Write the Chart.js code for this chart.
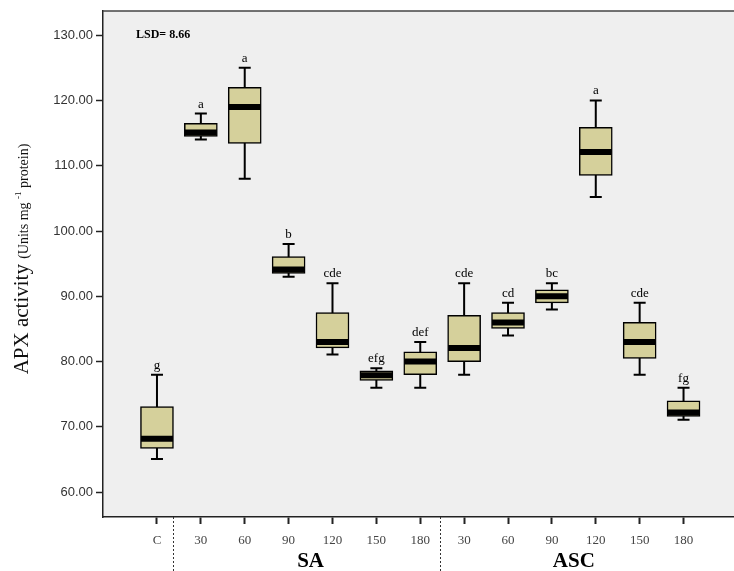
<!DOCTYPE html>
<html>
<head>
<meta charset="utf-8">
<script src="https://cdn.jsdelivr.net/npm/chart.js@4/dist/chart.umd.min.js"></script>
<style>
  html, body { margin: 0; padding: 0; background: #fff; }
  #wrap { width: 734px; height: 571px; position: relative; }
</style>
</head>
<body>
<div id="wrap"><canvas id="chart"></canvas></div>
<script>
// values (APX activity)
const categories = ["C", "30", "60", "90", "120", "150", "180", "30", "60", "90", "120", "150", "180"];
const whiskerLow  = [65.1, 114.0, 108.0, 93.0, 81.1, 76.0, 76.0, 78.0, 84.0, 88.0, 105.2, 78.0, 71.1];
const q1          = [66.7, 114.5, 113.4, 93.5, 82.1, 77.1, 78.0, 80.0, 85.1, 89.0, 108.5, 80.5, 71.6];
const medians     = [68.2, 115.1, 119.0, 94.1, 83.0, 77.9, 80.0, 82.1, 86.0, 90.0, 112.1, 83.0, 72.2];
const q3          = [73.1, 116.5, 122.0, 96.1, 87.5, 78.6, 81.5, 87.1, 87.5, 91.0, 115.9, 86.0, 74.0];
const whiskerHigh = [78.0, 118.0, 125.0, 98.0, 92.0, 79.0, 83.0, 92.0, 89.0, 92.0, 120.0, 89.0, 76.0];
const letters = ["g", "a", "a", "b", "cde", "efg", "def", "cde", "cd", "bc", "a", "cde", "fg"];
const groupLabels = ["SA", "ASC"];
const groupFirst = [2, 8];
const groupLast = [7, 13];
const dividers = [1.37, 7.46];
const yTicks = [60, 70, 80, 90, 100, 110, 120, 130];
const lsdText = "LSD= 8.66";

const positions = categories.map((_, i) => i + 1);

const boxPlugin = {
  id: "boxExtras",
  beforeDraw(chart) {
    const { ctx, chartArea: a } = chart;
    ctx.save();
    ctx.fillStyle = "#efefef";
    ctx.fillRect(a.left, a.top, a.right - a.left, a.bottom - a.top);
    ctx.restore();
  },
  beforeDatasetsDraw(chart) {
    // whiskers behind the boxes
    const { ctx } = chart;
    const x = chart.scales.x, y = chart.scales.y;
    ctx.save();
    ctx.strokeStyle = "#000";
    ctx.lineWidth = 2;
    positions.forEach((p, i) => {
      const px = x.getPixelForValue(p);
      const yl = y.getPixelForValue(whiskerLow[i]);
      const yh = y.getPixelForValue(whiskerHigh[i]);
      ctx.beginPath();
      ctx.moveTo(px, yl); ctx.lineTo(px, yh);
      ctx.moveTo(px - 6, yl); ctx.lineTo(px + 6, yl);
      ctx.moveTo(px - 6, yh); ctx.lineTo(px + 6, yh);
      ctx.stroke();
    });
    ctx.restore();
  },
  afterDatasetsDraw(chart) {
    const { ctx, chartArea: a } = chart;
    const x = chart.scales.x, y = chart.scales.y;
    ctx.save();
    // medians
    ctx.strokeStyle = "#000";
    ctx.lineWidth = 6;
    positions.forEach((p, i) => {
      const px = x.getPixelForValue(p);
      const ym = y.getPixelForValue(medians[i]);
      ctx.beginPath();
      ctx.moveTo(px - 16, ym); ctx.lineTo(px + 16, ym);
      ctx.stroke();
    });
    // significance letters
    ctx.fillStyle = "#000";
    ctx.font = "13px 'Liberation Serif'";
    ctx.textAlign = "center";
    ctx.textBaseline = "alphabetic";
    positions.forEach((p, i) => {
      ctx.fillText(letters[i], x.getPixelForValue(p), y.getPixelForValue(whiskerHigh[i]) - 6);
    });
    // LSD note
    ctx.font = "bold 12px 'Liberation Serif'";
    ctx.textAlign = "left";
    ctx.textBaseline = "middle";
    ctx.fillText(lsdText, a.left + 33, y.getPixelForValue(130));
    // frame top line
    ctx.strokeStyle = "#444";
    ctx.lineWidth = 1.5;
    ctx.beginPath();
    ctx.moveTo(a.left, a.top); ctx.lineTo(a.right, a.top);
    ctx.stroke();
    // dashed group dividers
    ctx.strokeStyle = "#333";
    ctx.lineWidth = 1;
    ctx.setLineDash([2, 2]);
    dividers.forEach((d) => {
      const px = Math.round(x.getPixelForValue(d)) + 0.5;
      ctx.beginPath();
      ctx.moveTo(px, a.bottom); ctx.lineTo(px, chart.height);
      ctx.stroke();
    });
    ctx.setLineDash([]);
    // group labels
    ctx.fillStyle = "#000";
    ctx.font = "bold 21px 'Liberation Serif'";
    ctx.textAlign = "center";
    ctx.textBaseline = "middle";
    groupLabels.forEach((g, i) => {
      const cx = (x.getPixelForValue(groupFirst[i]) + x.getPixelForValue(groupLast[i])) / 2;
      ctx.fillText(g, cx, 562);
    });
    // y axis title with mixed sizes
    ctx.translate(20, (a.top + a.bottom) / 2 - 5);
    ctx.rotate(-Math.PI / 2);
    ctx.textAlign = "left";
    ctx.textBaseline = "alphabetic";
    const big = "APX activity ";
    const s1 = "(Units mg ";
    const sup = "-1";
    const s2 = " protein)";
    ctx.font = "21px 'Liberation Serif'";
    const wBig = ctx.measureText(big).width;
    ctx.font = "14px 'Liberation Serif'";
    const w1 = ctx.measureText(s1).width, w2 = ctx.measureText(s2).width;
    ctx.font = "9px 'Liberation Serif'";
    const wSup = ctx.measureText(sup).width;
    let tx = -(wBig + w1 + wSup + w2) / 2;
    const base = 8;
    ctx.fillStyle = "#111";
    ctx.font = "21px 'Liberation Serif'";
    ctx.fillText(big, tx, base); tx += wBig;
    ctx.font = "14px 'Liberation Serif'";
    ctx.fillText(s1, tx, base); tx += w1;
    ctx.font = "9px 'Liberation Serif'";
    ctx.fillText(sup, tx, base - 7); tx += wSup;
    ctx.font = "14px 'Liberation Serif'";
    ctx.fillText(s2, tx, base);
    ctx.restore();
  }
};

new Chart(document.getElementById("chart"), {
  type: "bar",
  data: {
    datasets: [{
      data: positions.map((p, i) => ({ x: p, y: [q1[i], q3[i]] })),
      backgroundColor: "#d5d09b",
      borderColor: "#000",
      borderWidth: 1.5,
      borderSkipped: false,
      barThickness: 33
    }]
  },
  options: {
    responsive: true,
    maintainAspectRatio: false,
    animation: false,
    layout: { padding: { top: 11, right: 0, left: 0, bottom: 0 } },
    plugins: { legend: { display: false }, tooltip: { enabled: false } },
    scales: {
      x: {
        type: "linear",
        offset: false,
        min: -0.23,
        max: 14.15,
        afterBuildTicks: (s) => { s.ticks = positions.map((v) => ({ value: v })); },
        afterFit: (s) => { s.height = 54; },
        grid: { offset: false, drawOnChartArea: false, drawTicks: true, tickLength: 7, color: "#222", tickWidth: 2 },
        border: { color: "#222", width: 1.5 },
        ticks: {
          autoSkip: false,
          maxRotation: 0,
          padding: 9,
          color: "#444",
          font: { family: "'Liberation Serif'", size: 13 },
          callback: (v) => categories[v - 1]
        }
      },
      y: {
        min: 56.2,
        max: 133.7,
        afterBuildTicks: (s) => { s.ticks = yTicks.map((v) => ({ value: v })); },
        afterFit: (s) => { s.width = 103; },
        grid: { drawOnChartArea: false, drawTicks: true, tickLength: 7, color: "#222", tickWidth: 1.5 },
        border: { color: "#222", width: 1.5 },
        ticks: {
          padding: 3,
          color: "#333",
          font: { family: "'Liberation Sans'", size: 13 },
          callback: (v) => Number(v).toFixed(2)
        }
      }
    }
  },
  plugins: [boxPlugin]
});
</script>
</body>
</html>
